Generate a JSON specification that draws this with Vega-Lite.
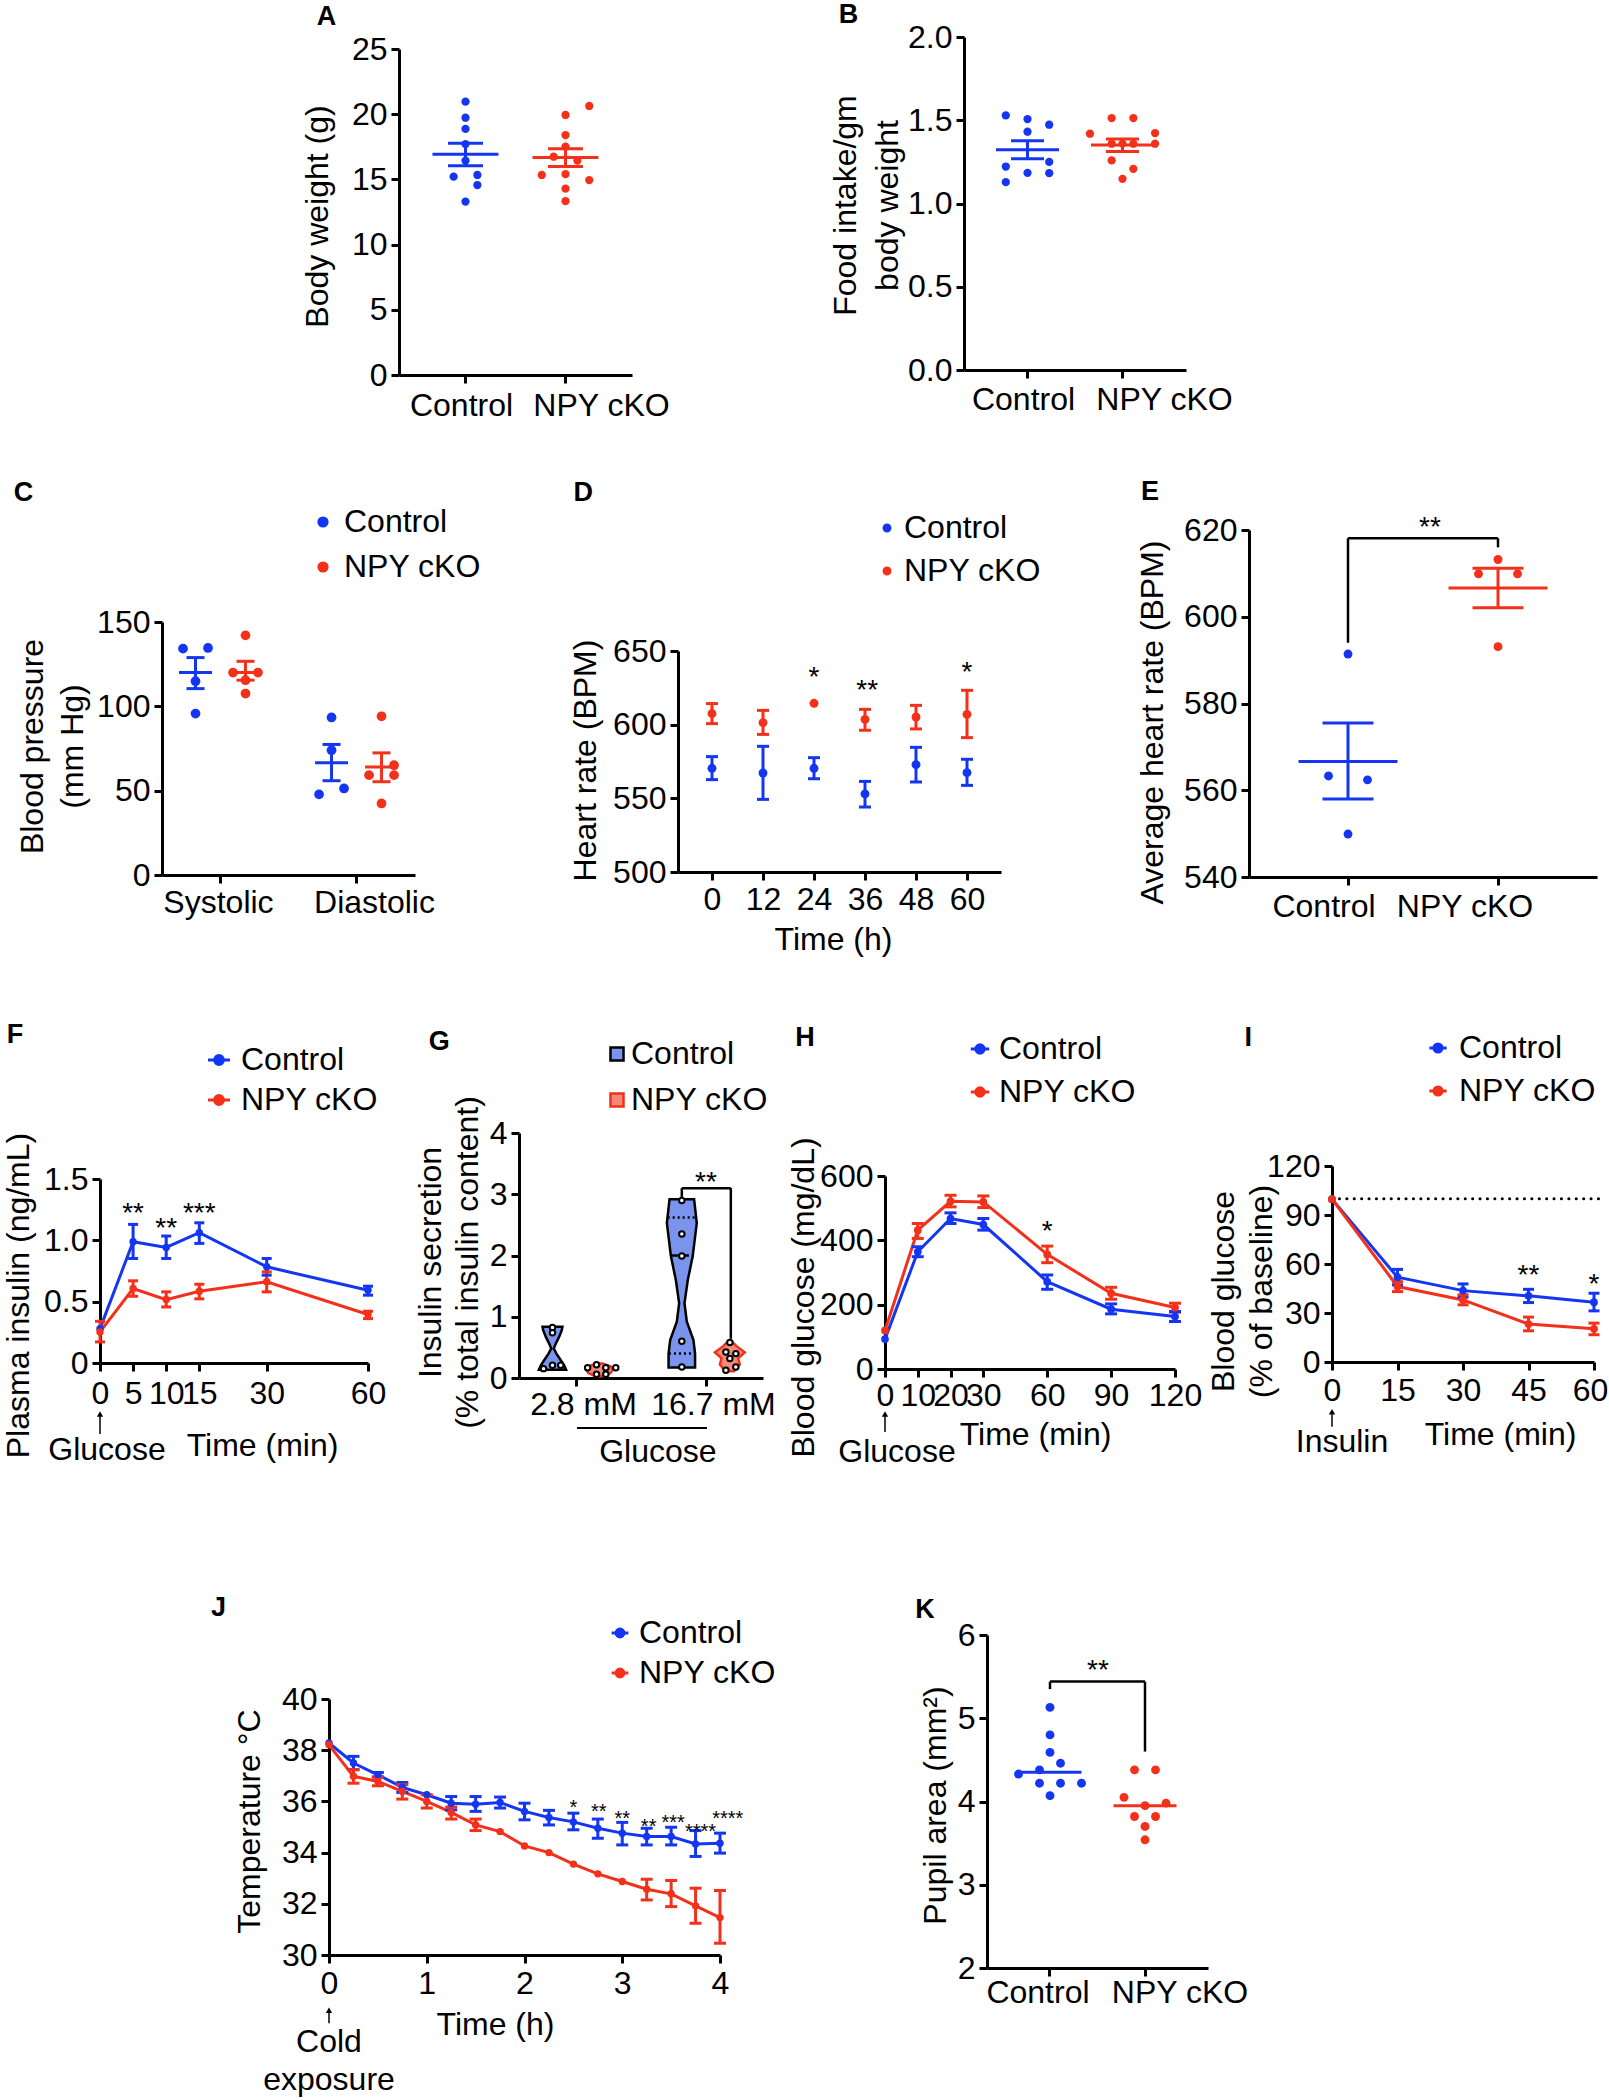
{
"$schema":"https://vega.github.io/schema/vega-lite/v6.json",
"width":1609,"height":2100,
"autosize":{"type":"none"},
"padding":0,
"background":"white",
"config":{
 "font":"Liberation Sans",
 "view":{"stroke":"transparent"},
 "axis":{"domainColor":"#000","domainWidth":3,"tickColor":"#000","tickWidth":3,"tickSize":8,"labelFont":"Liberation Sans","labelFontSize":32,"labelColor":"#000","titleFont":"Liberation Sans","titleFontSize":32,"titleFontWeight":"normal","titleColor":"#000","grid":false,"labelFlush":false,"labelOverlap":false,"labelPadding":4,"titleBaseline":"middle","titleAlign":"center","titleLineHeight":40,"titleAngle":0},
 "axisX":{"labelAngle":0},
 "axisY":{"titleAngle":-90},
 "legend":{"labelFont":"Liberation Sans","labelFontSize":32,"labelColor":"#000","padding":0,"orient":"none"},
 "text":{"font":"Liberation Sans","color":"#000"}
},
"datasets":{
 "aPts":[{"group":"Control","j":0,"v":20.96},{"group":"Control","j":0,"v":19.73},{"group":"Control","j":0,"v":18.87},{"group":"Control","j":0,"v":17.71},{"group":"Control","j":0,"v":16.44},{"group":"Control","j":-1,"v":15.21},{"group":"Control","j":1,"v":15.34},{"group":"Control","j":1,"v":14.57},{"group":"Control","j":0,"v":13.3},{"group":"NPY cKO","j":2,"v":20.63},{"group":"NPY cKO","j":0,"v":19.94},{"group":"NPY cKO","j":0,"v":18.4},{"group":"NPY cKO","j":0,"v":17.51},{"group":"NPY cKO","j":-1,"v":16.74},{"group":"NPY cKO","j":1,"v":16.44},{"group":"NPY cKO","j":-2,"v":15.34},{"group":"NPY cKO","j":0,"v":15.41},{"group":"NPY cKO","j":2,"v":14.95},{"group":"NPY cKO","j":0,"v":14.29},{"group":"NPY cKO","j":0,"v":13.34}],
 "aSum":[{"group":"Control","mean":16.92,"lo":16.05,"hi":17.77},{"group":"NPY cKO","mean":16.67,"lo":15.98,"hi":17.36}],
 "bPts":[{"group":"Control","j":-2,"v":1.529},{"group":"Control","j":0,"v":1.507},{"group":"Control","j":2,"v":1.473},{"group":"Control","j":0,"v":1.431},{"group":"Control","j":-2,"v":1.222},{"group":"Control","j":2,"v":1.25},{"group":"Control","j":0,"v":1.184},{"group":"Control","j":2,"v":1.182},{"group":"Control","j":-2,"v":1.128},{"group":"NPY cKO","j":-1,"v":1.513},{"group":"NPY cKO","j":1,"v":1.513},{"group":"NPY cKO","j":-3,"v":1.419},{"group":"NPY cKO","j":3,"v":1.423},{"group":"NPY cKO","j":-1,"v":1.359},{"group":"NPY cKO","j":1,"v":1.359},{"group":"NPY cKO","j":3,"v":1.359},{"group":"NPY cKO","j":0,"v":1.36},{"group":"NPY cKO","j":-1,"v":1.259},{"group":"NPY cKO","j":1,"v":1.208},{"group":"NPY cKO","j":0,"v":1.148}],
 "bSum":[{"group":"Control","mean":1.323,"lo":1.269,"hi":1.377},{"group":"NPY cKO","mean":1.351,"lo":1.313,"hi":1.387}],
 "cPts":[{"cond":"Systolic","group":"Control","col":-3,"v":134.2},{"cond":"Systolic","group":"Control","col":-1,"v":134.6},{"cond":"Systolic","group":"Control","col":-2,"v":114.9},{"cond":"Systolic","group":"Control","col":-2,"v":95.7},{"cond":"Systolic","group":"NPY cKO","col":2,"v":142.1},{"cond":"Systolic","group":"NPY cKO","col":1,"v":120},{"cond":"Systolic","group":"NPY cKO","col":3,"v":120},{"cond":"Systolic","group":"NPY cKO","col":2,"v":115.5},{"cond":"Systolic","group":"NPY cKO","col":2,"v":107.6},{"cond":"Diastolic","group":"Control","col":-2,"v":93.4},{"cond":"Diastolic","group":"Control","col":-2,"v":74.0},{"cond":"Diastolic","group":"Control","col":-3,"v":47.8},{"cond":"Diastolic","group":"Control","col":-1,"v":51.3},{"cond":"Diastolic","group":"NPY cKO","col":2,"v":94.1},{"cond":"Diastolic","group":"NPY cKO","col":3,"v":65.1},{"cond":"Diastolic","group":"NPY cKO","col":1,"v":59.2},{"cond":"Diastolic","group":"NPY cKO","col":3,"v":59.2},{"cond":"Diastolic","group":"NPY cKO","col":2,"v":42.4}],
 "cSum":[{"cond":"Systolic","group":"Control","col":-2,"mean":120.0,"lo":110.5,"hi":128.9},{"cond":"Systolic","group":"NPY cKO","col":2,"mean":120.0,"lo":115.5,"hi":126.7},{"cond":"Diastolic","group":"Control","col":-2,"mean":66.5,"lo":55.9,"hi":77.4},{"cond":"Diastolic","group":"NPY cKO","col":2,"mean":64.1,"lo":55.3,"hi":72.4}],
 "dHr":[{"t":0,"group":"Control","v":570.4,"lo":562.7,"hi":578.3},{"t":12,"group":"Control","v":567.2,"lo":549.3,"hi":585.3},{"t":24,"group":"Control","v":570.4,"lo":563.3,"hi":577.6},{"t":36,"group":"Control","v":553.0,"lo":544.1,"hi":561.5},{"t":48,"group":"Control","v":572.9,"lo":561.1,"hi":584.6},{"t":60,"group":"Control","v":567.4,"lo":558.8,"hi":576.5},{"t":0,"group":"NPY cKO","v":607.5,"lo":600.7,"hi":614.3},{"t":12,"group":"NPY cKO","v":601.4,"lo":593.4,"hi":609.7},{"t":24,"group":"NPY cKO","v":614.5,"lo":null,"hi":null},{"t":36,"group":"NPY cKO","v":603.6,"lo":596.2,"hi":610.4},{"t":48,"group":"NPY cKO","v":605.2,"lo":597.1,"hi":613.1},{"t":60,"group":"NPY cKO","v":607.0,"lo":591.2,"hi":623.3}],
 "dStars":[{"t":24,"v":637.3,"label":"*"},{"t":36.5,"v":628.3,"label":"**"},{"t":60,"v":640.3,"label":"*"}],
 "ePts":[{"group":"Control","j":0,"v":591.4},{"group":"Control","j":-1,"v":563.3},{"group":"Control","j":1,"v":562.4},{"group":"Control","j":0,"v":549.9},{"group":"NPY cKO","j":0,"v":613.2},{"group":"NPY cKO","j":-1,"v":609.9},{"group":"NPY cKO","j":1,"v":609.9},{"group":"NPY cKO","j":0,"v":593.1}],
 "eSum":[{"group":"Control","mean":566.6,"lo":558.0,"hi":575.5},{"group":"NPY cKO","mean":606.6,"lo":602.1,"hi":611.2}],
 "eBr":[{"x1":"Control","x2":"NPY cKO","y1":618.1,"y2":618.1},{"x1":"Control","x2":"Control","y1":594.0,"y2":618.1},{"x1":"NPY cKO","x2":"NPY cKO","y1":616.0,"y2":618.1}],
 "fIns":[{"t":0,"group":"Control","v":0.28,"lo":null,"hi":null},{"t":5,"group":"Control","v":0.988,"lo":0.852,"hi":1.13},{"t":10,"group":"Control","v":0.942,"lo":0.852,"hi":1.035},{"t":15,"group":"Control","v":1.062,"lo":0.975,"hi":1.143},{"t":30,"group":"Control","v":0.784,"lo":0.716,"hi":0.852},{"t":60,"group":"Control","v":0.593,"lo":0.553,"hi":0.626},{"t":0,"group":"NPY cKO","v":0.253,"lo":0.172,"hi":0.34},{"t":5,"group":"NPY cKO","v":0.607,"lo":0.544,"hi":0.67},{"t":10,"group":"NPY cKO","v":0.517,"lo":0.457,"hi":0.58},{"t":15,"group":"NPY cKO","v":0.585,"lo":0.523,"hi":0.642},{"t":30,"group":"NPY cKO","v":0.662,"lo":0.58,"hi":0.743},{"t":60,"group":"NPY cKO","v":0.395,"lo":0.362,"hi":0.422}],
 "gPts":[{"x":0.638,"v":0.824},{"x":0.638,"v":0.737},{"x":0.5,"v":0.153},{"x":0.638,"v":0.207},{"x":0.765,"v":0.207},{"x":1.179,"v":0.169},{"x":1.316,"v":0.218},{"x":1.459,"v":0.169},{"x":1.612,"v":0.169},{"x":1.316,"v":0.06},{"x":1.459,"v":0.06},{"x":2.628,"v":2.898},{"x":2.628,"v":2.352},{"x":2.628,"v":1.992},{"x":2.628,"v":0.6},{"x":2.628,"v":0.18},{"x":3.367,"v":0.578},{"x":3.306,"v":0.426},{"x":3.459,"v":0.398},{"x":3.367,"v":0.317},{"x":3.459,"v":0.18},{"x":3.306,"v":0.126}],
 "gVio":[
  {"vid":"c28","group":"Control","v":0.136,"lo":0.429,"hi":0.847},{"vid":"c28","group":"Control","v":0.207,"lo":0.459,"hi":0.817},{"vid":"c28","group":"Control","v":0.289,"lo":0.51,"hi":0.766},{"vid":"c28","group":"Control","v":0.398,"lo":0.577,"hi":0.699},{"vid":"c28","group":"Control","v":0.48,"lo":0.618,"hi":0.658},{"vid":"c28","group":"Control","v":0.562,"lo":0.587,"hi":0.689},{"vid":"c28","group":"Control","v":0.671,"lo":0.536,"hi":0.74},{"vid":"c28","group":"Control","v":0.78,"lo":0.495,"hi":0.781},{"vid":"c28","group":"Control","v":0.835,"lo":0.485,"hi":0.791},
  {"vid":"n28","group":"NPY cKO","v":0.03,"lo":1.3,"hi":1.42},{"vid":"n28","group":"NPY cKO","v":0.08,"lo":1.19,"hi":1.53},{"vid":"n28","group":"NPY cKO","v":0.14,"lo":1.15,"hi":1.57},{"vid":"n28","group":"NPY cKO","v":0.19,"lo":1.19,"hi":1.53},{"vid":"n28","group":"NPY cKO","v":0.235,"lo":1.31,"hi":1.41},
  {"vid":"c167","group":"Control","v":0.17,"lo":2.424,"hi":2.832},{"vid":"c167","group":"Control","v":0.4,"lo":2.424,"hi":2.832},{"vid":"c167","group":"Control","v":0.62,"lo":2.449,"hi":2.807},{"vid":"c167","group":"Control","v":0.92,"lo":2.551,"hi":2.705},{"vid":"c167","group":"Control","v":1.22,"lo":2.587,"hi":2.669},{"vid":"c167","group":"Control","v":1.6,"lo":2.536,"hi":2.72},{"vid":"c167","group":"Control","v":1.99,"lo":2.46,"hi":2.796},{"vid":"c167","group":"Control","v":2.53,"lo":2.398,"hi":2.858},{"vid":"c167","group":"Control","v":2.92,"lo":2.439,"hi":2.817},
  {"vid":"n167","group":"NPY cKO","v":0.11,"lo":3.306,"hi":3.428},{"vid":"n167","group":"NPY cKO","v":0.15,"lo":3.267,"hi":3.467},{"vid":"n167","group":"NPY cKO","v":0.22,"lo":3.214,"hi":3.52},{"vid":"n167","group":"NPY cKO","v":0.32,"lo":3.239,"hi":3.495},{"vid":"n167","group":"NPY cKO","v":0.42,"lo":3.137,"hi":3.597},{"vid":"n167","group":"NPY cKO","v":0.52,"lo":3.265,"hi":3.469},{"vid":"n167","group":"NPY cKO","v":0.6,"lo":3.341,"hi":3.393}],
 "gBr":[{"x1":2.628,"x2":3.382,"y1":3.1,"y2":3.1},{"x1":2.628,"x2":2.628,"y1":2.95,"y2":3.1},{"x1":3.382,"x2":3.382,"y1":0.64,"y2":3.1}],
 "hGlu":[{"t":0,"group":"Control","v":92.9,"lo":null,"hi":null},{"t":10,"group":"Control","v":364.5,"lo":349.1,"hi":380.0},{"t":20,"group":"Control","v":467.8,"lo":452.3,"hi":485.4},{"t":30,"group":"Control","v":449.2,"lo":431.7,"hi":467.8},{"t":60,"group":"Control","v":271.6,"lo":247.8,"hi":292.3},{"t":90,"group":"Control","v":185.9,"lo":171.4,"hi":202.4},{"t":120,"group":"Control","v":163.2,"lo":147.7,"hi":178.7},{"t":0,"group":"NPY cKO","v":119.8,"lo":null,"hi":null},{"t":10,"group":"NPY cKO","v":431.7,"lo":405.9,"hi":452.3},{"t":20,"group":"NPY cKO","v":521.5,"lo":504.0,"hi":540.1},{"t":30,"group":"NPY cKO","v":519.4,"lo":501.9,"hi":538.0},{"t":60,"group":"NPY cKO","v":356.3,"lo":330.5,"hi":382.1},{"t":90,"group":"NPY cKO","v":235.4,"lo":216.9,"hi":254.0},{"t":120,"group":"NPY cKO","v":191.0,"lo":176.6,"hi":204.5}],
 "iGlu":[{"t":0,"group":"Control","v":99.7,"lo":null,"hi":null},{"t":15,"group":"Control","v":51.9,"lo":47.2,"hi":56.7},{"t":30,"group":"Control","v":43.7,"lo":39.7,"hi":47.8},{"t":45,"group":"Control","v":40.5,"lo":36.4,"hi":44.5},{"t":60,"group":"Control","v":36.6,"lo":31.3,"hi":42.1},{"t":0,"group":"NPY cKO","v":99.7,"lo":null,"hi":null},{"t":15,"group":"NPY cKO","v":46.2,"lo":43.1,"hi":49.2},{"t":30,"group":"NPY cKO","v":38.0,"lo":35.0,"hi":41.1},{"t":45,"group":"NPY cKO","v":23.2,"lo":19.1,"hi":27.5},{"t":60,"group":"NPY cKO","v":20.3,"lo":16.7,"hi":23.8}],
 "jTemp":[{"t":0,"group":"Control","v":38.28,"lo":null,"hi":null},{"t":0.25,"group":"Control","v":37.5,"lo":37.24,"hi":37.76},{"t":0.5,"group":"Control","v":37.04,"lo":36.95,"hi":37.13},{"t":0.75,"group":"Control","v":36.55,"lo":36.35,"hi":36.74},{"t":1,"group":"Control","v":36.26,"lo":null,"hi":null},{"t":1.25,"group":"Control","v":35.93,"lo":35.67,"hi":36.19},{"t":1.5,"group":"Control","v":35.89,"lo":35.61,"hi":36.19},{"t":1.75,"group":"Control","v":35.96,"lo":35.74,"hi":36.17},{"t":2,"group":"Control","v":35.61,"lo":35.28,"hi":35.93},{"t":2.25,"group":"Control","v":35.37,"lo":35.08,"hi":35.65},{"t":2.5,"group":"Control","v":35.2,"lo":34.89,"hi":35.54},{"t":2.75,"group":"Control","v":34.95,"lo":34.56,"hi":35.31},{"t":3,"group":"Control","v":34.76,"lo":34.3,"hi":35.18},{"t":3.25,"group":"Control","v":34.63,"lo":34.3,"hi":34.95},{"t":3.5,"group":"Control","v":34.63,"lo":34.3,"hi":34.99},{"t":3.75,"group":"Control","v":34.34,"lo":33.85,"hi":34.86},{"t":4,"group":"Control","v":34.37,"lo":33.98,"hi":34.76},
  {"t":0,"group":"NPY cKO","v":38.21,"lo":null,"hi":null},{"t":0.25,"group":"NPY cKO","v":36.98,"lo":36.71,"hi":37.24},{"t":0.5,"group":"NPY cKO","v":36.78,"lo":36.61,"hi":36.95},{"t":0.75,"group":"NPY cKO","v":36.39,"lo":36.09,"hi":36.65},{"t":1,"group":"NPY cKO","v":36.0,"lo":35.74,"hi":36.26},{"t":1.25,"group":"NPY cKO","v":35.57,"lo":35.31,"hi":35.78},{"t":1.5,"group":"NPY cKO","v":35.08,"lo":34.86,"hi":35.31},{"t":1.75,"group":"NPY cKO","v":34.82,"lo":null,"hi":null},{"t":2,"group":"NPY cKO","v":34.26,"lo":null,"hi":null},{"t":2.25,"group":"NPY cKO","v":34.0,"lo":null,"hi":null},{"t":2.5,"group":"NPY cKO","v":33.55,"lo":null,"hi":null},{"t":2.75,"group":"NPY cKO","v":33.17,"lo":null,"hi":null},{"t":3,"group":"NPY cKO","v":32.87,"lo":null,"hi":null},{"t":3.25,"group":"NPY cKO","v":32.57,"lo":32.15,"hi":32.96},{"t":3.5,"group":"NPY cKO","v":32.39,"lo":31.89,"hi":32.91},{"t":3.75,"group":"NPY cKO","v":31.92,"lo":31.24,"hi":32.61},{"t":4,"group":"NPY cKO","v":31.46,"lo":30.46,"hi":32.52}],
 "kPts":[{"group":"Control","j":0,"v":5.13},{"group":"Control","j":0,"v":4.8},{"group":"Control","j":0,"v":4.59},{"group":"Control","j":1,"v":4.46},{"group":"Control","j":-3,"v":4.33},{"group":"Control","j":-1,"v":4.38},{"group":"Control","j":-1,"v":4.22},{"group":"Control","j":1,"v":4.22},{"group":"Control","j":3,"v":4.22},{"group":"Control","j":0,"v":4.07},{"group":"NPY cKO","j":-1,"v":4.38},{"group":"NPY cKO","j":1,"v":4.38},{"group":"NPY cKO","j":-2,"v":4.05},{"group":"NPY cKO","j":0,"v":3.95},{"group":"NPY cKO","j":2,"v":3.98},{"group":"NPY cKO","j":-1,"v":3.82},{"group":"NPY cKO","j":1,"v":3.82},{"group":"NPY cKO","j":0,"v":3.7},{"group":"NPY cKO","j":0,"v":3.54}],
 "kMed":[{"group":"Control","med":4.35},{"group":"NPY cKO","med":3.95}],
 "kBr":[{"x1":"Control","x2":"NPY cKO","y1":5.44,"y2":5.44},{"x1":"Control","x2":"Control","y1":5.35,"y2":5.44},{"x1":"NPY cKO","x2":"NPY cKO","y1":4.6,"y2":5.44}]
},
"resolve":{"scale":{"x":"independent","y":"independent","color":"independent","fill":"independent","stroke":"independent","xOffset":"independent"},"axis":{"x":"independent","y":"independent"},"legend":{"color":"independent","fill":"independent","stroke":"independent"}},
"layer":[
{"layer":[
  {"data":{"name":"aPts"},"mark":{"type":"circle","size":68,"opacity":1},
   "encoding":{"x":{"field":"group","type":"nominal","scale":{"type":"band","range":[399,632],"paddingInner":0.525,"paddingOuter":0.4275,"domain":["Control","NPY cKO"]},"axis":{"orient":"bottom","offset":-1725,"title":null,"labelPadding":7,"labelOffset":{"condition":{"test":"datum.value === 'NPY cKO'","value":36},"value":-4}}},
    "xOffset":{"field":"j","type":"ordinal","scale":{"domain":[-2,-1,0,1,2],"range":[0,47.5],"paddingInner":0,"paddingOuter":0}},
    "y":{"field":"v","type":"quantitative","scale":{"domain":[0,25],"range":[375,49],"nice":false,"zero":false},"axis":{"orient":"left","offset":-399,"values":[0,5,10,15,20,25],"format":"d","title":"Body weight (g)","titleX":-82,"titleY":216}},
    "color":{"field":"group","type":"nominal","scale":{"domain":["Control","NPY cKO"],"range":["#1436F2","#F5301A"]},"legend":null}}},
  {"data":{"name":"aSum"},"mark":{"type":"tick","orient":"horizontal","size":66,"thickness":3,"opacity":1},"encoding":{"x":{"field":"group","type":"nominal"},"y":{"field":"mean","type":"quantitative"},"color":{"field":"group","type":"nominal","legend":null}}},
  {"data":{"name":"aSum"},"mark":{"type":"tick","orient":"horizontal","size":35,"thickness":3,"opacity":1},"encoding":{"x":{"field":"group","type":"nominal"},"y":{"field":"lo","type":"quantitative"},"color":{"field":"group","type":"nominal","legend":null}}},
  {"data":{"name":"aSum"},"mark":{"type":"tick","orient":"horizontal","size":35,"thickness":3,"opacity":1},"encoding":{"x":{"field":"group","type":"nominal"},"y":{"field":"hi","type":"quantitative"},"color":{"field":"group","type":"nominal","legend":null}}},
  {"data":{"name":"aSum"},"mark":{"type":"rule","strokeWidth":3},"encoding":{"x":{"field":"group","type":"nominal"},"y":{"field":"lo","type":"quantitative"},"y2":{"field":"hi"},"color":{"field":"group","type":"nominal","legend":null}}},
  {"data":{"values":[{"group":"Control","v":27.48,"label":"A"}]},"mark":{"type":"text","fontSize":27,"fontWeight":"bold","baseline":"middle","align":"center","dx":-139},"encoding":{"x":{"field":"group","type":"nominal"},"y":{"field":"v","type":"quantitative"},"text":{"field":"label"}}}
]},
{"layer":[
  {"data":{"name":"bPts"},"mark":{"type":"circle","size":68,"opacity":1},
   "encoding":{"x":{"field":"group","type":"nominal","scale":{"type":"band","range":[964,1186],"paddingInner":0.3147,"paddingOuter":0.326,"domain":["Control","NPY cKO"]},"axis":{"orient":"bottom","offset":-1730,"title":null,"labelPadding":6,"labelOffset":{"condition":{"test":"datum.value === 'NPY cKO'","value":42},"value":-4}}},
    "xOffset":{"field":"j","type":"ordinal","scale":{"domain":[-3,-2,-1,0,1,2,3],"range":[0,65.1],"paddingInner":0,"paddingOuter":0}},
    "y":{"field":"v","type":"quantitative","scale":{"domain":[0,2],"range":[370,37],"nice":false,"zero":false},"axis":{"orient":"left","offset":-964,"values":[0,0.5,1,1.5,2],"format":".1f","title":["Food intake/gm","body weight"],"titleX":-119,"titleY":205,"titleLineHeight":42}},
    "color":{"field":"group","type":"nominal","scale":{"domain":["Control","NPY cKO"],"range":["#1436F2","#F5301A"]},"legend":null}}},
  {"data":{"name":"bSum"},"mark":{"type":"tick","orient":"horizontal","size":63,"thickness":3,"opacity":1},"encoding":{"x":{"field":"group","type":"nominal"},"y":{"field":"mean","type":"quantitative"},"color":{"field":"group","type":"nominal","legend":null}}},
  {"data":{"name":"bSum"},"mark":{"type":"tick","orient":"horizontal","size":33,"thickness":3,"opacity":1},"encoding":{"x":{"field":"group","type":"nominal"},"y":{"field":"lo","type":"quantitative"},"color":{"field":"group","type":"nominal","legend":null}}},
  {"data":{"name":"bSum"},"mark":{"type":"tick","orient":"horizontal","size":33,"thickness":3,"opacity":1},"encoding":{"x":{"field":"group","type":"nominal"},"y":{"field":"hi","type":"quantitative"},"color":{"field":"group","type":"nominal","legend":null}}},
  {"data":{"name":"bSum"},"mark":{"type":"rule","strokeWidth":3},"encoding":{"x":{"field":"group","type":"nominal"},"y":{"field":"lo","type":"quantitative"},"y2":{"field":"hi"},"color":{"field":"group","type":"nominal","legend":null}}},
  {"data":{"values":[{"group":"Control","v":2.132,"label":"B"}]},"mark":{"type":"text","fontSize":27,"fontWeight":"bold","baseline":"middle","align":"center","dx":-179},"encoding":{"x":{"field":"group","type":"nominal"},"y":{"field":"v","type":"quantitative"},"text":{"field":"label"}}}
]},
{"layer":[
  {"data":{"name":"cPts"},"mark":{"type":"circle","size":95,"opacity":1},
   "encoding":{"x":{"field":"cond","type":"nominal","scale":{"type":"band","range":[162,415],"paddingInner":0.357,"paddingOuter":0.1085,"domain":["Systolic","Diastolic"]},"axis":{"orient":"bottom","offset":-1225,"title":null,"labelPadding":4,"labelOffset":{"condition":{"test":"datum.value === 'Diastolic'","value":18},"value":-2}}},
    "xOffset":{"field":"col","type":"ordinal","scale":{"domain":[-3,-2,-1,0,1,2,3],"range":[0,87.5],"paddingInner":0,"paddingOuter":0}},
    "y":{"field":"v","type":"quantitative","scale":{"domain":[0,150],"range":[875,622],"nice":false,"zero":false},"axis":{"orient":"left","offset":-162,"values":[0,50,100,150],"format":"d","title":["Blood pressure","(mm Hg)"],"titleX":-130,"titleY":746}},
    "color":{"field":"group","type":"nominal","scale":{"domain":["Control","NPY cKO"],"range":["#1436F2","#F5301A"]},"legend":{"orient":"none","legendX":307,"legendY":506,"title":null,"symbolType":"circle","symbolSize":95,"labelOffset":5,"rowPadding":13}}}},
  {"data":{"name":"cSum"},"mark":{"type":"tick","orient":"horizontal","size":33,"thickness":3,"opacity":1},"encoding":{"x":{"field":"cond","type":"nominal"},"xOffset":{"field":"col","type":"ordinal"},"y":{"field":"mean","type":"quantitative"},"color":{"field":"group","type":"nominal"}}},
  {"data":{"name":"cSum"},"mark":{"type":"tick","orient":"horizontal","size":18,"thickness":3,"opacity":1},"encoding":{"x":{"field":"cond","type":"nominal"},"xOffset":{"field":"col","type":"ordinal"},"y":{"field":"lo","type":"quantitative"},"color":{"field":"group","type":"nominal"}}},
  {"data":{"name":"cSum"},"mark":{"type":"tick","orient":"horizontal","size":18,"thickness":3,"opacity":1},"encoding":{"x":{"field":"cond","type":"nominal"},"xOffset":{"field":"col","type":"ordinal"},"y":{"field":"hi","type":"quantitative"},"color":{"field":"group","type":"nominal"}}},
  {"data":{"name":"cSum"},"mark":{"type":"rule","strokeWidth":3},"encoding":{"x":{"field":"cond","type":"nominal"},"xOffset":{"field":"col","type":"ordinal"},"y":{"field":"lo","type":"quantitative"},"y2":{"field":"hi"},"color":{"field":"group","type":"nominal"}}},
  {"data":{"values":[{"cond":"Systolic","v":226.3,"label":"C"}]},"mark":{"type":"text","fontSize":27,"fontWeight":"bold","baseline":"middle","align":"center","dx":-197},"encoding":{"x":{"field":"cond","type":"nominal"},"y":{"field":"v","type":"quantitative"},"text":{"field":"label"}}}
]},
{"layer":[
  {"data":{"name":"dHr"},"mark":{"type":"rule","strokeWidth":3},
   "encoding":{"x":{"field":"t","type":"quantitative","scale":{"domain":[-8,68],"range":[678,1001],"nice":false,"zero":false},"axis":{"orient":"bottom","offset":-1228,"values":[0,12,24,36,48,60],"format":"d","title":"Time (h)","titleX":833,"titleY":67,"labelPadding":4}},
    "y":{"field":"lo","type":"quantitative","scale":{"domain":[500,650],"range":[872,651],"nice":false,"zero":false},"axis":{"orient":"left","offset":-678,"values":[500,550,600,650],"format":"d","title":"Heart rate (BPM)","titleX":-93,"titleY":760}},
    "y2":{"field":"hi"},
    "color":{"field":"group","type":"nominal","scale":{"domain":["Control","NPY cKO"],"range":["#1436F2","#F5301A"]}}}},
  {"data":{"name":"dHr"},"mark":{"type":"tick","orient":"horizontal","size":12,"thickness":3,"opacity":1},"encoding":{"x":{"field":"t","type":"quantitative"},"y":{"field":"lo","type":"quantitative"},"color":{"field":"group","type":"nominal"}}},
  {"data":{"name":"dHr"},"mark":{"type":"tick","orient":"horizontal","size":12,"thickness":3,"opacity":1},"encoding":{"x":{"field":"t","type":"quantitative"},"y":{"field":"hi","type":"quantitative"},"color":{"field":"group","type":"nominal"}}},
  {"data":{"name":"dHr"},"mark":{"type":"circle","size":79,"opacity":1},"encoding":{"x":{"field":"t","type":"quantitative"},"y":{"field":"v","type":"quantitative"},"color":{"field":"group","type":"nominal","legend":{"orient":"none","legendX":871,"legendY":512,"title":null,"symbolType":"circle","symbolSize":55,"labelOffset":1,"rowPadding":11}}}},
  {"data":{"name":"dStars"},"mark":{"type":"text","fontSize":28,"baseline":"alphabetic","dy":16},"encoding":{"x":{"field":"t","type":"quantitative"},"y":{"field":"v","type":"quantitative"},"text":{"field":"label"}}},
  {"data":{"values":[{"t":-30.3,"v":757,"label":"D"}]},"mark":{"type":"text","fontSize":27,"fontWeight":"bold","baseline":"middle","align":"center"},"encoding":{"x":{"field":"t","type":"quantitative"},"y":{"field":"v","type":"quantitative"},"text":{"field":"label"}}}
]},
{"layer":[
  {"data":{"name":"ePts"},"mark":{"type":"circle","size":79,"opacity":1},
   "encoding":{"x":{"field":"group","type":"nominal","scale":{"type":"band","range":[1249,1597],"paddingInner":0.74,"paddingOuter":0.53,"domain":["Control","NPY cKO"]},"axis":{"orient":"bottom","offset":-1223,"title":null,"labelPadding":6,"labelOffset":{"condition":{"test":"datum.value === 'NPY cKO'","value":-33},"value":-24}}},
    "xOffset":{"field":"j","type":"ordinal","scale":{"domain":[-1,0,1],"range":[0,39],"paddingInner":0,"paddingOuter":0}},
    "y":{"field":"v","type":"quantitative","scale":{"domain":[540,620],"range":[877,530],"nice":false,"zero":false},"axis":{"orient":"left","offset":-1249,"values":[540,560,580,600,620],"format":"d","title":"Average heart rate (BPM)","titleX":-97,"titleY":722}},
    "color":{"field":"group","type":"nominal","scale":{"domain":["Control","NPY cKO"],"range":["#1436F2","#F5301A"]},"legend":null}}},
  {"data":{"name":"eSum"},"mark":{"type":"tick","orient":"horizontal","size":99,"thickness":3,"opacity":1},"encoding":{"x":{"field":"group","type":"nominal"},"y":{"field":"mean","type":"quantitative"},"color":{"field":"group","type":"nominal","legend":null}}},
  {"data":{"name":"eSum"},"mark":{"type":"tick","orient":"horizontal","size":51,"thickness":3,"opacity":1},"encoding":{"x":{"field":"group","type":"nominal"},"y":{"field":"lo","type":"quantitative"},"color":{"field":"group","type":"nominal","legend":null}}},
  {"data":{"name":"eSum"},"mark":{"type":"tick","orient":"horizontal","size":51,"thickness":3,"opacity":1},"encoding":{"x":{"field":"group","type":"nominal"},"y":{"field":"hi","type":"quantitative"},"color":{"field":"group","type":"nominal","legend":null}}},
  {"data":{"name":"eSum"},"mark":{"type":"rule","strokeWidth":3},"encoding":{"x":{"field":"group","type":"nominal"},"y":{"field":"lo","type":"quantitative"},"y2":{"field":"hi"},"color":{"field":"group","type":"nominal","legend":null}}},
  {"data":{"name":"eBr"},"mark":{"type":"rule","strokeWidth":2.5,"color":"#000"},"encoding":{"x":{"field":"x1","type":"nominal"},"x2":{"field":"x2"},"y":{"field":"y1","type":"quantitative"},"y2":{"field":"y2"}}},
  {"data":{"values":[{"group":"Control","v":622.3,"label":"**"}]},"mark":{"type":"text","fontSize":28,"baseline":"alphabetic","dy":16,"dx":82},"encoding":{"x":{"field":"group","type":"nominal"},"y":{"field":"v","type":"quantitative"},"text":{"field":"label"}}},
  {"data":{"values":[{"group":"Control","v":628.83,"label":"E"}]},"mark":{"type":"text","fontSize":27,"fontWeight":"bold","baseline":"middle","align":"center","dx":-198},"encoding":{"x":{"field":"group","type":"nominal"},"y":{"field":"v","type":"quantitative"},"text":{"field":"label"}}}
]},
{"layer":[
  {"data":{"name":"fIns"},"mark":{"type":"line","strokeWidth":3},
   "encoding":{"x":{"field":"t","type":"quantitative","scale":{"domain":[0,15,30,60],"range":[100,199.3,266.7,368],"nice":false,"zero":false},"axis":{"orient":"bottom","offset":-737,"values":[0,5,10,15,30,60],"format":"d","title":"Time (min)","titleX":262,"titleY":82,"labelPadding":7}},
    "y":{"field":"v","type":"quantitative","scale":{"domain":[0,1.5],"range":[1363,1179],"nice":false,"zero":false},"axis":{"orient":"left","offset":-100,"values":[0,0.5,1,1.5],"labelExpr":"datum.value === 0 ? '0' : format(datum.value, '.1f')","title":"Plasma insulin (ng/mL)","titleX":-82,"titleY":1295}},
    "color":{"field":"group","type":"nominal","scale":{"domain":["Control","NPY cKO"],"range":["#1436F2","#F5301A"]},"legend":{"orient":"none","legendX":203,"legendY":1044,"title":null,"symbolType":"M-1,0L1,0M0.4,0A0.4,0.4,0,1,1,-0.4,0A0.4,0.4,0,1,1,0.4,0Z","symbolSize":484,"symbolStrokeWidth":3,"labelOffset":6,"rowPadding":8}}}},
  {"data":{"name":"fIns"},"mark":{"type":"rule","strokeWidth":3},"encoding":{"x":{"field":"t","type":"quantitative"},"y":{"field":"lo","type":"quantitative"},"y2":{"field":"hi"},"color":{"field":"group","type":"nominal"}}},
  {"data":{"name":"fIns"},"mark":{"type":"tick","orient":"horizontal","size":10,"thickness":3,"opacity":1},"encoding":{"x":{"field":"t","type":"quantitative"},"y":{"field":"lo","type":"quantitative"},"color":{"field":"group","type":"nominal"}}},
  {"data":{"name":"fIns"},"mark":{"type":"tick","orient":"horizontal","size":10,"thickness":3,"opacity":1},"encoding":{"x":{"field":"t","type":"quantitative"},"y":{"field":"hi","type":"quantitative"},"color":{"field":"group","type":"nominal"}}},
  {"data":{"name":"fIns"},"mark":{"type":"circle","size":55,"opacity":1},"encoding":{"x":{"field":"t","type":"quantitative"},"y":{"field":"v","type":"quantitative"},"color":{"field":"group","type":"nominal"}}},
  {"data":{"values":[{"t":5,"v":1.28,"label":"**"},{"t":10,"v":1.16,"label":"**"},{"t":15,"v":1.28,"label":"***"}]},"mark":{"type":"text","fontSize":28,"baseline":"alphabetic","dy":16},"encoding":{"x":{"field":"t","type":"quantitative"},"y":{"field":"v","type":"quantitative"},"text":{"field":"label"}}},
  {"data":{"values":[{"t":0,"v":-0.709,"label":"Glucose"}]},"mark":{"type":"text","fontSize":32,"baseline":"middle","dx":7},"encoding":{"x":{"field":"t","type":"quantitative"},"y":{"field":"v","type":"quantitative"},"text":{"field":"label"}}},
  {"data":{"values":[{"t":0,"a":-0.579,"b":-0.43}]},"mark":{"type":"rule","strokeWidth":1.5,"color":"#000"},"encoding":{"x":{"field":"t","type":"quantitative"},"y":{"field":"a","type":"quantitative"},"y2":{"field":"b"}}},
  {"data":{"values":[{"t":0,"tip":-0.415}]},"mark":{"type":"point","shape":"triangle-up","filled":true,"color":"#000","size":40,"opacity":1},"encoding":{"x":{"field":"t","type":"quantitative"},"y":{"field":"tip","type":"quantitative"}}},
  {"data":{"values":[{"t":-12.84,"v":2.674,"label":"F"}]},"mark":{"type":"text","fontSize":27,"fontWeight":"bold","baseline":"middle","align":"center"},"encoding":{"x":{"field":"t","type":"quantitative"},"y":{"field":"v","type":"quantitative"},"text":{"field":"label"}}}
]},
{"layer":[
  {"data":{"name":"gVio"},"mark":{"type":"area","orient":"horizontal","strokeWidth":2.5,"opacity":1},
   "encoding":{"y":{"field":"v","type":"quantitative","scale":{"domain":[0,4],"range":[1378,1133],"nice":false,"zero":false},"axis":{"orient":"left","offset":-519,"values":[0,1,2,3,4],"format":"d","title":["Insulin secretion","(% total insulin content)"],"titleX":-89,"titleY":1262,"titleLineHeight":37}},
    "x":{"field":"lo","type":"quantitative","scale":{"domain":[0.123,3.877],"range":[519,763],"nice":false,"zero":false},"axis":{"orient":"bottom","offset":-722,"values":[1,3],"labelExpr":"datum.value == 1 ? '2.8 mM' : '16.7 mM'","title":null,"labelPadding":3,"labelOffset":7}},
    "x2":{"field":"hi"},
    "detail":{"field":"vid"},
    "fill":{"field":"group","type":"nominal","scale":{"domain":["Control","NPY cKO"],"range":["#7A94EE","#F38A78"]},"legend":{"orient":"none","legendX":601,"legendY":1038,"title":null,"symbolType":"square","symbolSize":170,"symbolStrokeWidth":2.5,"labelOffset":-2,"rowPadding":14}},
    "stroke":{"field":"group","type":"nominal","scale":{"domain":["Control","NPY cKO"],"range":["#000000","#F5301A"]},"legend":{"orient":"none","legendX":601,"legendY":1038,"title":null,"symbolType":"square","symbolSize":170,"symbolStrokeWidth":2.5,"labelOffset":-2,"rowPadding":14}}}},
  {"data":{"values":[{"v":2.62,"lo":2.41,"hi":2.85},{"v":0.4,"lo":2.43,"hi":2.83}]},"mark":{"type":"rule","strokeWidth":2.5,"color":"#000","strokeDash":[2,3]},"encoding":{"x":{"field":"lo","type":"quantitative"},"x2":{"field":"hi"},"y":{"field":"v","type":"quantitative"}}},
  {"data":{"values":[{"v":2.0,"lo":2.46,"hi":2.8}]},"mark":{"type":"rule","strokeWidth":2.5,"color":"#000","strokeDash":[7,4]},"encoding":{"x":{"field":"lo","type":"quantitative"},"x2":{"field":"hi"},"y":{"field":"v","type":"quantitative"}}},
  {"data":{"name":"gPts"},"mark":{"type":"point","filled":false,"fill":"white","stroke":"#000","strokeWidth":2,"size":30,"opacity":1},"encoding":{"x":{"field":"x","type":"quantitative"},"y":{"field":"v","type":"quantitative"}}},
  {"data":{"name":"gBr"},"mark":{"type":"rule","strokeWidth":2.5,"color":"#000"},"encoding":{"x":{"field":"x1","type":"quantitative"},"x2":{"field":"x2"},"y":{"field":"y1","type":"quantitative"},"y2":{"field":"y2"}}},
  {"data":{"values":[{"x":3.0,"v":3.318,"label":"**"}]},"mark":{"type":"text","fontSize":28,"baseline":"alphabetic","dy":16},"encoding":{"x":{"field":"x","type":"quantitative"},"y":{"field":"v","type":"quantitative"},"text":{"field":"label"}}},
  {"data":{"values":[{"x":2.26,"v":-1.21,"label":"Glucose"}]},"mark":{"type":"text","fontSize":32,"baseline":"middle"},"encoding":{"x":{"field":"x","type":"quantitative"},"y":{"field":"v","type":"quantitative"},"text":{"field":"label"}}},
  {"data":{"values":[{"x1":1.015,"x2":3.015,"v":-0.816}]},"mark":{"type":"rule","strokeWidth":2,"color":"#000"},"encoding":{"x":{"field":"x1","type":"quantitative"},"x2":{"field":"x2"},"y":{"field":"v","type":"quantitative"}}},
  {"data":{"values":[{"x":-1.103,"v":5.49,"label":"G"}]},"mark":{"type":"text","fontSize":27,"fontWeight":"bold","baseline":"middle","align":"center"},"encoding":{"x":{"field":"x","type":"quantitative"},"y":{"field":"v","type":"quantitative"},"text":{"field":"label"}}}
]},
{"layer":[
  {"data":{"name":"hGlu"},"mark":{"type":"line","strokeWidth":3},
   "encoding":{"x":{"field":"t","type":"quantitative","scale":{"domain":[0,30,120],"range":[885,983.3,1175],"nice":false,"zero":false},"axis":{"orient":"bottom","offset":-731,"values":[0,10,20,30,60,90,120],"format":"d","title":"Time (min)","titleX":1035,"titleY":65,"labelPadding":3}},
    "y":{"field":"v","type":"quantitative","scale":{"domain":[0,600],"range":[1369,1176],"nice":false,"zero":false},"axis":{"orient":"left","offset":-885,"values":[0,200,400,600],"format":"d","title":"Blood glucose (mg/dL)","titleX":-82,"titleY":1297}},
    "color":{"field":"group","type":"nominal","scale":{"domain":["Control","NPY cKO"],"range":["#1436F2","#F5301A"]},"legend":{"orient":"none","legendX":964,"legendY":1033,"title":null,"symbolType":"M-1,0L1,0M0.45,0A0.45,0.45,0,1,1,-0.45,0A0.45,0.45,0,1,1,0.45,0Z","symbolSize":340,"symbolStrokeWidth":3,"labelOffset":3,"rowPadding":11}}}},
  {"data":{"name":"hGlu"},"mark":{"type":"rule","strokeWidth":3},"encoding":{"x":{"field":"t","type":"quantitative"},"y":{"field":"lo","type":"quantitative"},"y2":{"field":"hi"},"color":{"field":"group","type":"nominal"}}},
  {"data":{"name":"hGlu"},"mark":{"type":"tick","orient":"horizontal","size":12,"thickness":3,"opacity":1},"encoding":{"x":{"field":"t","type":"quantitative"},"y":{"field":"lo","type":"quantitative"},"color":{"field":"group","type":"nominal"}}},
  {"data":{"name":"hGlu"},"mark":{"type":"tick","orient":"horizontal","size":12,"thickness":3,"opacity":1},"encoding":{"x":{"field":"t","type":"quantitative"},"y":{"field":"hi","type":"quantitative"},"color":{"field":"group","type":"nominal"}}},
  {"data":{"name":"hGlu"},"mark":{"type":"circle","size":60,"opacity":1},"encoding":{"x":{"field":"t","type":"quantitative"},"y":{"field":"v","type":"quantitative"},"color":{"field":"group","type":"nominal"}}},
  {"data":{"values":[{"t":60,"v":452.3,"label":"*"}]},"mark":{"type":"text","fontSize":28,"baseline":"alphabetic","dy":16},"encoding":{"x":{"field":"t","type":"quantitative"},"y":{"field":"v","type":"quantitative"},"text":{"field":"label"}}},
  {"data":{"values":[{"t":0,"v":-257,"label":"Glucose"}]},"mark":{"type":"text","fontSize":32,"baseline":"middle","dx":12},"encoding":{"x":{"field":"t","type":"quantitative"},"y":{"field":"v","type":"quantitative"},"text":{"field":"label"}}},
  {"data":{"values":[{"t":0,"a":-196,"b":-145}]},"mark":{"type":"rule","strokeWidth":1.5,"color":"#000"},"encoding":{"x":{"field":"t","type":"quantitative"},"y":{"field":"a","type":"quantitative"},"y2":{"field":"b"}}},
  {"data":{"values":[{"t":0,"tip":-140}]},"mark":{"type":"point","shape":"triangle-up","filled":true,"color":"#000","size":40,"opacity":1},"encoding":{"x":{"field":"t","type":"quantitative"},"y":{"field":"tip","type":"quantitative"}}},
  {"data":{"values":[{"t":-24.4,"v":1028,"label":"H"}]},"mark":{"type":"text","fontSize":27,"fontWeight":"bold","baseline":"middle","align":"center"},"encoding":{"x":{"field":"t","type":"quantitative"},"y":{"field":"v","type":"quantitative"},"text":{"field":"label"}}}
]},
{"layer":[
  {"data":{"values":[{"v":100,"t1":0,"t2":61.8}]},"mark":{"type":"rule","strokeWidth":3,"color":"#000","strokeDash":[0.1,7.3],"strokeCap":"round"},
   "encoding":{"x":{"field":"t1","type":"quantitative","scale":{"domain":[0,60],"range":[1332,1594],"nice":false,"zero":false},"axis":{"orient":"bottom","offset":-738,"values":[0,15,30,45,60],"format":"d","title":"Time (min)","titleX":1500,"titleY":72,"labelPadding":5,"labelOffset":{"condition":{"test":"datum.value === 60","value":-4},"value":0}}},
    "x2":{"field":"t2"},
    "y":{"field":"v","type":"quantitative","scale":{"domain":[0,120],"range":[1362,1166],"nice":false,"zero":false},"axis":{"orient":"left","offset":-1332,"values":[0,30,60,90,120],"format":"d","title":["Blood glucose","(% of baseline)"],"titleX":-109,"titleY":1291,"titleLineHeight":38}}}},
  {"data":{"name":"iGlu"},"mark":{"type":"line","strokeWidth":3},"encoding":{"x":{"field":"t","type":"quantitative"},"y":{"field":"v","type":"quantitative"},"color":{"field":"group","type":"nominal","scale":{"domain":["Control","NPY cKO"],"range":["#1436F2","#F5301A"]},"legend":{"orient":"none","legendX":1422,"legendY":1032,"title":null,"symbolType":"M-1,0L1,0M0.47,0A0.47,0.47,0,1,1,-0.47,0A0.47,0.47,0,1,1,0.47,0Z","symbolSize":300,"symbolStrokeWidth":3,"labelOffset":5,"rowPadding":11}}}},
  {"data":{"name":"iGlu"},"mark":{"type":"rule","strokeWidth":3},"encoding":{"x":{"field":"t","type":"quantitative"},"y":{"field":"lo","type":"quantitative"},"y2":{"field":"hi"},"color":{"field":"group","type":"nominal"}}},
  {"data":{"name":"iGlu"},"mark":{"type":"tick","orient":"horizontal","size":11,"thickness":3,"opacity":1},"encoding":{"x":{"field":"t","type":"quantitative"},"y":{"field":"lo","type":"quantitative"},"color":{"field":"group","type":"nominal"}}},
  {"data":{"name":"iGlu"},"mark":{"type":"tick","orient":"horizontal","size":11,"thickness":3,"opacity":1},"encoding":{"x":{"field":"t","type":"quantitative"},"y":{"field":"hi","type":"quantitative"},"color":{"field":"group","type":"nominal"}}},
  {"data":{"name":"iGlu"},"mark":{"type":"circle","size":60,"opacity":1},"encoding":{"x":{"field":"t","type":"quantitative"},"y":{"field":"v","type":"quantitative"},"color":{"field":"group","type":"nominal"}}},
  {"data":{"values":[{"t":45,"v":57.4,"label":"**"},{"t":60,"v":52.0,"label":"*"}]},"mark":{"type":"text","fontSize":28,"baseline":"alphabetic","dy":16},"encoding":{"x":{"field":"t","type":"quantitative"},"y":{"field":"v","type":"quantitative"},"text":{"field":"label"}}},
  {"data":{"values":[{"t":0,"v":-48.8,"label":"Insulin"}]},"mark":{"type":"text","fontSize":32,"baseline":"middle","dx":10},"encoding":{"x":{"field":"t","type":"quantitative"},"y":{"field":"v","type":"quantitative"},"text":{"field":"label"}}},
  {"data":{"values":[{"t":0,"a":-39.6,"b":-32}]},"mark":{"type":"rule","strokeWidth":1.5,"color":"#000"},"encoding":{"x":{"field":"t","type":"quantitative"},"y":{"field":"a","type":"quantitative"},"y2":{"field":"b"}}},
  {"data":{"values":[{"t":0,"tip":-30.5}]},"mark":{"type":"point","shape":"triangle-up","filled":true,"color":"#000","size":40,"opacity":1},"encoding":{"x":{"field":"t","type":"quantitative"},"y":{"field":"tip","type":"quantitative"}}},
  {"data":{"values":[{"t":-19.17,"v":198.2,"label":"I"}]},"mark":{"type":"text","fontSize":27,"fontWeight":"bold","baseline":"middle","align":"center"},"encoding":{"x":{"field":"t","type":"quantitative"},"y":{"field":"v","type":"quantitative"},"text":{"field":"label"}}}
]},
{"layer":[
  {"data":{"name":"jTemp"},"mark":{"type":"line","strokeWidth":3},
   "encoding":{"x":{"field":"t","type":"quantitative","scale":{"domain":[0,4],"range":[329,720],"nice":false,"zero":false},"axis":{"orient":"bottom","offset":-145,"values":[0,1,2,3,4],"format":"d","title":"Time (h)","titleX":495,"titleY":69,"labelPadding":5}},
    "y":{"field":"v","type":"quantitative","scale":{"domain":[30,40],"range":[1955,1699],"nice":false,"zero":false},"axis":{"orient":"left","offset":-329,"values":[30,32,34,36,38,40],"format":"d","title":"Temperature °C","titleX":-80,"titleY":1821}},
    "color":{"field":"group","type":"nominal","scale":{"domain":["Control","NPY cKO"],"range":["#1436F2","#F5301A"]},"legend":{"orient":"none","legendX":604,"legendY":1617,"title":null,"symbolType":"M-1,0L1,0M0.47,0A0.47,0.47,0,1,1,-0.47,0A0.47,0.47,0,1,1,0.47,0Z","symbolSize":280,"symbolStrokeWidth":3,"labelOffset":3,"rowPadding":8}}}},
  {"data":{"name":"jTemp"},"mark":{"type":"rule","strokeWidth":3},"encoding":{"x":{"field":"t","type":"quantitative"},"y":{"field":"lo","type":"quantitative"},"y2":{"field":"hi"},"color":{"field":"group","type":"nominal"}}},
  {"data":{"name":"jTemp"},"mark":{"type":"tick","orient":"horizontal","size":12,"thickness":3,"opacity":1},"encoding":{"x":{"field":"t","type":"quantitative"},"y":{"field":"lo","type":"quantitative"},"color":{"field":"group","type":"nominal"}}},
  {"data":{"name":"jTemp"},"mark":{"type":"tick","orient":"horizontal","size":12,"thickness":3,"opacity":1},"encoding":{"x":{"field":"t","type":"quantitative"},"y":{"field":"hi","type":"quantitative"},"color":{"field":"group","type":"nominal"}}},
  {"data":{"name":"jTemp"},"mark":{"type":"circle","size":55,"opacity":1},"encoding":{"x":{"field":"t","type":"quantitative"},"y":{"field":"v","type":"quantitative"},"color":{"field":"group","type":"nominal"}}},
  {"data":{"values":[{"t":2.5,"v":35.94,"label":"*"},{"t":2.76,"v":35.8,"label":"**"},{"t":3.0,"v":35.52,"label":"**"},{"t":3.27,"v":35.22,"label":"**"},{"t":3.52,"v":35.39,"label":"***"},{"t":3.8,"v":35.02,"label":"****"},{"t":4.08,"v":35.52,"label":"****"}]},"mark":{"type":"text","fontSize":20,"baseline":"alphabetic","dy":11.5},"encoding":{"x":{"field":"t","type":"quantitative"},"y":{"field":"v","type":"quantitative"},"text":{"field":"label"}}},
  {"data":{"values":[{"t":0,"v":26.61,"label":"Cold"},{"t":0,"v":25.12,"label":"exposure"}]},"mark":{"type":"text","fontSize":32,"baseline":"middle"},"encoding":{"x":{"field":"t","type":"quantitative"},"y":{"field":"v","type":"quantitative"},"text":{"field":"label"}}},
  {"data":{"values":[{"t":0,"a":27.33,"b":27.78}]},"mark":{"type":"rule","strokeWidth":1.5,"color":"#000"},"encoding":{"x":{"field":"t","type":"quantitative"},"y":{"field":"a","type":"quantitative"},"y2":{"field":"b"}}},
  {"data":{"values":[{"t":0,"tip":27.84}]},"mark":{"type":"point","shape":"triangle-up","filled":true,"color":"#000","size":40,"opacity":1},"encoding":{"x":{"field":"t","type":"quantitative"},"y":{"field":"tip","type":"quantitative"}}},
  {"data":{"values":[{"t":-1.13,"v":43.54,"label":"J"}]},"mark":{"type":"text","fontSize":27,"fontWeight":"bold","baseline":"middle","align":"center"},"encoding":{"x":{"field":"t","type":"quantitative"},"y":{"field":"v","type":"quantitative"},"text":{"field":"label"}}}
]},
{"layer":[
  {"data":{"name":"kPts"},"mark":{"type":"circle","size":79,"opacity":1},
   "encoding":{"x":{"field":"group","type":"nominal","scale":{"type":"band","range":[987,1208],"paddingInner":0.337,"paddingOuter":0.3316,"domain":["Control","NPY cKO"]},"axis":{"orient":"bottom","offset":-132,"title":null,"labelPadding":1,"labelOffset":{"condition":{"test":"datum.value === 'NPY cKO'","value":35},"value":-12}}},
    "xOffset":{"field":"j","type":"ordinal","scale":{"domain":[-3,-2,-1,0,1,2,3],"range":[0,63],"paddingInner":0,"paddingOuter":0}},
    "y":{"field":"v","type":"quantitative","scale":{"domain":[2,6],"range":[1968,1635],"nice":false,"zero":false},"axis":{"orient":"left","offset":-987,"values":[2,3,4,5,6],"format":"d","title":"Pupil area (mm²)","titleX":-52,"titleY":1805}},
    "color":{"field":"group","type":"nominal","scale":{"domain":["Control","NPY cKO"],"range":["#1436F2","#F5301A"]},"legend":null}}},
  {"data":{"name":"kMed"},"mark":{"type":"tick","orient":"horizontal","size":63,"thickness":3,"opacity":1},"encoding":{"x":{"field":"group","type":"nominal"},"y":{"field":"med","type":"quantitative"},"color":{"field":"group","type":"nominal","legend":null}}},
  {"data":{"name":"kBr"},"mark":{"type":"rule","strokeWidth":2.5,"color":"#000"},"encoding":{"x":{"field":"x1","type":"nominal"},"x2":{"field":"x2"},"y":{"field":"y1","type":"quantitative"},"y2":{"field":"y2"}}},
  {"data":{"values":[{"group":"Control","v":5.66,"label":"**"}]},"mark":{"type":"text","fontSize":28,"baseline":"alphabetic","dy":16,"dx":48},"encoding":{"x":{"field":"group","type":"nominal"},"y":{"field":"v","type":"quantitative"},"text":{"field":"label"}}},
  {"data":{"values":[{"group":"Control","v":6.3,"label":"K"}]},"mark":{"type":"text","fontSize":27,"fontWeight":"bold","baseline":"middle","align":"center","dx":-125},"encoding":{"x":{"field":"group","type":"nominal"},"y":{"field":"v","type":"quantitative"},"text":{"field":"label"}}}
]}
]
}
